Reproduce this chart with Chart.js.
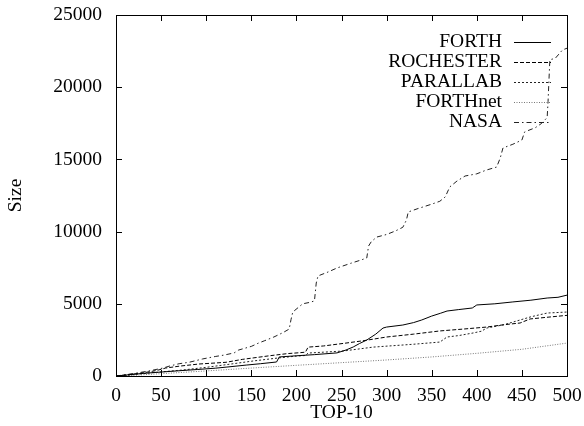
<!DOCTYPE html>
<html>
<head>
<meta charset="utf-8">
<script src="https://cdn.jsdelivr.net/npm/chart.js@4.4.1/dist/chart.umd.min.js"></script>
<style>
  html, body { margin: 0; padding: 0; background: #fff; }
  #wrap { width: 584px; height: 426px; }
</style>
</head>
<body>
<div id="wrap"><canvas id="sizeChart" width="584" height="426"></canvas></div>
<script>
// --- Data ---
const xTicks = [0, 50, 100, 150, 200, 250, 300, 350, 400, 450, 500];
const yTicks = [0, 5000, 10000, 15000, 20000, 25000];
const seriesNames = ['FORTH', 'ROCHESTER', 'PARALLAB', 'FORTHnet', 'NASA'];

const forthX = [0, 10, 20, 30, 45, 67, 90, 110, 123, 145, 160, 178, 181, 200, 220, 245, 255, 263, 270, 278, 288, 296, 300, 318, 330, 339, 350, 360, 367, 380, 395, 400, 420, 440, 460, 478, 490, 500];
const forthY = [0, 60, 120, 180, 250, 350, 450, 540, 620, 760, 850, 970, 1320, 1400, 1480, 1600, 1800, 2010, 2250, 2490, 2900, 3320, 3390, 3530, 3700, 3880, 4150, 4350, 4500, 4600, 4710, 4920, 5000, 5130, 5250, 5400, 5450, 5600];

const rochX = [0, 15, 30, 45, 55, 70, 92, 110, 122, 140, 152, 170, 190, 205, 210, 213, 230, 255, 275, 300, 330, 359, 385, 411, 430, 448, 459, 480, 500];
const rochY = [0, 100, 220, 380, 550, 680, 830, 900, 950, 1150, 1250, 1400, 1550, 1620, 1650, 2000, 2080, 2280, 2450, 2700, 2900, 3120, 3250, 3390, 3550, 3670, 3950, 4080, 4200];

const paraX = [0, 20, 40, 74, 100, 130, 152, 180, 200, 210, 213, 230, 252, 285, 330, 359, 367, 380, 396, 405, 411, 430, 448, 460, 478, 500];
const paraY = [0, 100, 230, 415, 600, 850, 1040, 1250, 1380, 1420, 1590, 1650, 1730, 2000, 2200, 2350, 2700, 2800, 2980, 3100, 3320, 3550, 3880, 4100, 4360, 4430];

const fnetX = [0, 25, 50, 100, 150, 200, 250, 300, 350, 400, 450, 500];
const fnetY = [0, 70, 160, 350, 550, 740, 925, 1110, 1320, 1570, 1850, 2280];

const nasaX = [0, 10, 22, 35, 52, 60, 70, 81, 96, 110, 120, 131, 136, 150, 158, 165, 175, 185, 192, 194, 196, 207, 215, 220, 222, 224, 235, 245, 260, 270, 278, 280, 283, 289, 300, 310, 318, 322, 324, 335, 350, 359, 365, 370, 378, 387, 400, 410, 422, 426, 429, 440, 450, 453, 465, 472, 478, 479, 480, 481, 487, 495, 500];
const nasaY = [0, 80, 200, 330, 550, 700, 850, 950, 1180, 1350, 1450, 1600, 1800, 2050, 2280, 2450, 2700, 3000, 3250, 3900, 4430, 5000, 5100, 5200, 6440, 6930, 7200, 7480, 7800, 8000, 8170, 9000, 9300, 9620, 9800, 10050, 10300, 10800, 11360, 11600, 11900, 12100, 12400, 13090, 13500, 13850, 14000, 14250, 14470, 15100, 15790, 16050, 16340, 16900, 17200, 17500, 17900, 19000, 20500, 21900, 22000, 22580, 22700];

const serif = 'Liberation Serif, Times New Roman, serif';
const fontSize = 19.5;

function pts(xs, ys) {
  return xs.map((x, i) => ({ x: x, y: ys[i] }));
}

function series(label, xs, ys, color, dash) {
  return {
    label: label,
    data: pts(xs, ys),
    borderColor: color,
    borderWidth: 1,
    borderDash: dash,
    pointRadius: 0,
    tension: 0,
    fill: false
  };
}

// --- gnuplot-like frame, inward tics and legend ---
const framePlugin = {
  id: 'frame',
  afterDraw(chart) {
    const { ctx, chartArea: a, scales } = chart;
    ctx.save();
    ctx.strokeStyle = '#000';
    ctx.lineWidth = 1;
    ctx.setLineDash([]);
    ctx.strokeRect(Math.round(a.left) + 0.5, Math.round(a.top) + 0.5,
      Math.round(a.right - a.left), Math.round(a.bottom - a.top));
    const tl = 6;
    ctx.beginPath();
    xTicks.forEach(v => {
      const px = Math.round(scales.x.getPixelForValue(v)) + 0.5;
      ctx.moveTo(px, a.bottom); ctx.lineTo(px, a.bottom - tl);
      ctx.moveTo(px, a.top); ctx.lineTo(px, a.top + tl);
    });
    yTicks.forEach(v => {
      const py = Math.round(scales.y.getPixelForValue(v)) + 0.5;
      ctx.moveTo(a.left, py); ctx.lineTo(a.left + tl, py);
      ctx.moveTo(a.right, py); ctx.lineTo(a.right - tl, py);
    });
    ctx.stroke();

    // legend: text right aligned, line sample to the right
    ctx.font = fontSize + 'px ' + serif;
    ctx.textAlign = 'right';
    ctx.textBaseline = 'middle';
    chart.data.datasets.forEach((ds, i) => {
      const y = 42 + i * 20;
      ctx.fillStyle = '#000';
      ctx.fillText(ds.label, 502, y);
      ctx.strokeStyle = ds.borderColor;
      ctx.setLineDash(ds.borderDash || []);
      ctx.beginPath();
      ctx.moveTo(514, Math.round(y) + 0.5);
      ctx.lineTo(551, Math.round(y) + 0.5);
      ctx.stroke();
    });
    ctx.restore();
  }
};

const ctx = document.getElementById('sizeChart').getContext('2d');
const chart = new Chart(ctx, {
  type: 'line',
  data: {
    datasets: [
      series(seriesNames[0], forthX, forthY, '#000', []),
      series(seriesNames[1], rochX, rochY, '#000', [4, 2]),
      series(seriesNames[2], paraX, paraY, '#222', [2, 2]),
      series(seriesNames[3], fnetX, fnetY, '#777', [1, 1.5]),
      series(seriesNames[4], nasaX, nasaY, '#222', [5, 3, 1.5, 3])
    ]
  },
  options: {
    responsive: false,
    animation: false,
    devicePixelRatio: 1,
    layout: { padding: { top: 15, right: 17, left: 0, bottom: 0 } },
    plugins: {
      legend: { display: false },
      tooltip: { enabled: false }
    },
    scales: {
      x: {
        type: 'linear',
        min: 0,
        max: 500,
        afterBuildTicks: s => { s.ticks = xTicks.map(v => ({ value: v })); },
        afterFit: s => { s.height = 50; s.paddingLeft = 0; s.paddingRight = 0; },
        grid: { display: false, drawTicks: false },
        border: { display: false },
        ticks: {
          color: '#000',
          font: { family: serif, size: fontSize },
          padding: 8,
          maxRotation: 0,
          autoSkip: false
        },
        title: {
          display: true,
          text: 'TOP-10',
          color: '#000',
          font: { family: serif, size: fontSize },
          padding: { top: 0, bottom: 1 }
        }
      },
      y: {
        type: 'linear',
        min: 0,
        max: 25000,
        afterBuildTicks: s => { s.ticks = yTicks.map(v => ({ value: v })); },
        afterFit: s => { s.width = 116; s.paddingTop = 0; s.paddingBottom = 0; },
        grid: { display: false, drawTicks: false },
        border: { display: false },
        ticks: {
          color: '#000',
          font: { family: serif, size: fontSize },
          padding: 14,
          callback: v => String(v)
        },
        title: {
          display: true,
          text: 'Size',
          color: '#000',
          font: { family: serif, size: fontSize },
          padding: { top: 4, bottom: 0 }
        }
      }
    }
  },
  plugins: [framePlugin]
});
</script>
</body>
</html>
